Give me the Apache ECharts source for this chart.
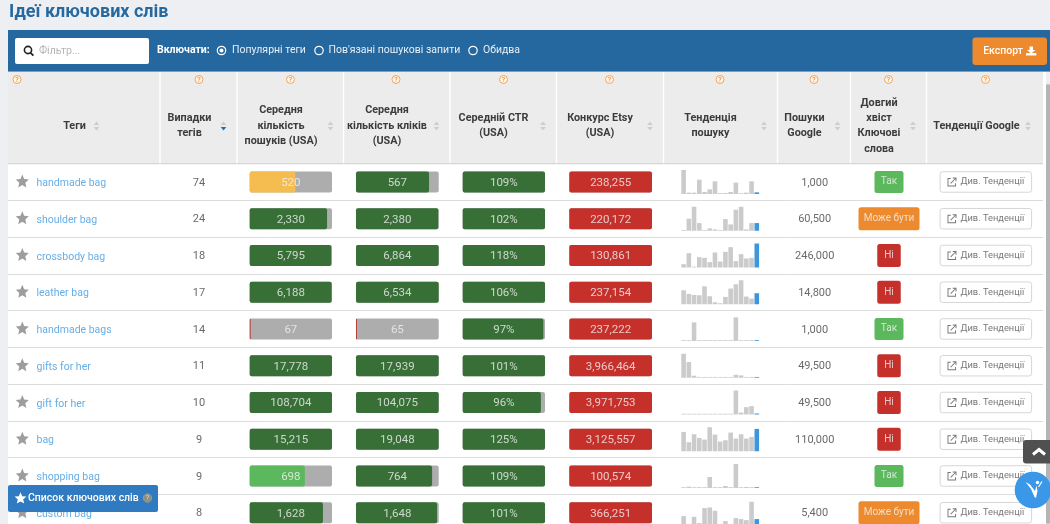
<!DOCTYPE html>
<html>
<head>
<meta charset="utf-8">
<style>
  html, body { margin: 0; padding: 0; background: #edeff3; }
  #main { width: 1050px; height: 524px; }
</style>
<script src="https://cdn.jsdelivr.net/npm/echarts@6/dist/echarts.min.js"></script>
</head>
<body>
<div id="main"></div>
<script>
var tags = ['handmade bag', 'shoulder bag', 'crossbody bag', 'leather bag', 'handmade bags', 'gifts for her', 'gift for her', 'bag', 'shopping bag', 'custom bag'];
var occurrences = [74, 24, 18, 17, 14, 11, 10, 9, 9, 8];
var avgSearches = [520, 2330, 5795, 6188, 67, 17778, 108704, 15215, 698, 1628];
var searchShare = [0.555, 0.94, 0.99, 0.995, 0.012, 1, 1, 1, 0.67, 0.89];
var searchLevel = ['mid', 'high', 'high', 'high', 'low', 'high', 'high', 'high', 'fair', 'high'];
var avgClicks = [567, 2380, 6864, 6534, 65, 17939, 104075, 19048, 764, 1648];
var clickShare = [0.883, 0.995, 1, 1, 0.012, 1, 1, 1, 0.92, 0.98];
var clickLevel = ['high', 'high', 'high', 'high', 'low', 'high', 'high', 'high', 'high', 'high'];
var avgCtr = [109, 102, 118, 106, 97, 101, 96, 125, 109, 101];
var ctrShare = [1, 1, 1, 1, 0.98, 1, 0.95, 1, 1, 1];
var etsyCompetition = [238255, 220172, 130861, 237154, 237222, 3966464, 3971753, 3125557, 100574, 366251];
var googleSearches = [1000, 60500, 246000, 14800, 1000, 49500, 49500, 110000, null, 5400];
var longTail = ['Так', 'Може бути', 'Ні', 'Ні', 'Так', 'Ні', 'Ні', 'Ні', 'Так', 'Може бути'];
var trendValues = [
  [72, 4, 4, 43, 6, 14, 38, 2, 3, 6, 34, 2, 4, 38, 5],
  [1, 36, 72, 23, 1, 7, 4, 1, 35, 19, 63, 72, 4, 23, 23],
  [10, 43, 2, 31, 29, 16, 45, 18, 47, 61, 19, 40, 27, 29, 72],
  [42, 31, 28, 27, 54, 24, 6, 3, 22, 47, 60, 72, 23, 17, 33],
  [1, 1, 56, 1, 1, 1, 1, 1, 1, 1, 71, 1, 1, 1, 2],
  [72, 47, 6, 1, 1, 1, 1, 1, 1, 1, 9, 7, 1, 1, 2],
  [1, 1, 1, 1, 1, 1, 1, 1, 1, 1, 72, 6, 22, 25, 3],
  [58, 27, 51, 40, 35, 72, 50, 29, 33, 56, 38, 51, 38, 43, 67],
  [1, 4, 2, 1, 1, 33, 1, 1, 6, 1, 72, 1, 3, 1, 2],
  [26, 1, 24, 5, 50, 52, 42, 1, 11, 1, 20, 17, 14, 69, 17]
];
var headers = [
  { lines: ['Теги'], x: 74.5, sort: 96.5, help: 17 },
  { lines: ['Випадки', 'тегів'], x: 189.5, sort: 223.5, help: 199, active: true },
  { lines: ['Середня', 'кількість', 'пошуків (USA)'], x: 281, sort: 330.5, help: 290.5 },
  { lines: ['Середня', 'кількість кліків', '(USA)'], x: 387, sort: 436.5, help: 396 },
  { lines: ['Середній CTR', '(USA)'], x: 493.5, sort: 543, help: 503.5 },
  { lines: ['Конкурс Etsy', '(USA)'], x: 600, sort: 650, help: 609.5 },
  { lines: ['Тенденція', 'пошуку'], x: 710.5, sort: 764, help: 720 },
  { lines: ['Пошуки', 'Google'], x: 804.5, sort: 837.5, help: 814 },
  { lines: ['Довгий', 'хвіст', 'Ключові', 'слова'], x: 879, sort: 913, help: 888.5 },
  { lines: ['Тенденції Google'], x: 976.5, sort: 1028, help: 985.5 }
];
var dividers = [160, 237, 343.5, 450, 556.5, 663.5, 777.5, 850.5, 926.5];

var ROW_H = 36.75, TOP = 163.6;
var FONT = 'Roboto, sans-serif';
var GREEN = '#376f37', RED = '#c5302b';
var levelColors = { high: GREEN, mid: '#f5bd4f', fair: '#5cb85c', low: '#b5403a' };
var tailStyle = {
  'Так': { color: '#5cb85c', size: [29, 22] },
  'Ні': { color: '#c5302b', size: [23.5, 23] },
  'Може бути': { color: '#ee8a2e', size: [61, 23] }
};

var mainChart = echarts.init(document.getElementById('main'));
var grid = [], xAxis = [], yAxis = [], series = [], gfx = [];

function fmt(v) { return v == null ? '' : v.toLocaleString('en-US'); }

function addColumn(left, width) {
  var idx = grid.length;
  grid.push({ left: left, top: TOP, width: width, height: ROW_H * 10, outerBoundsMode: 'none' });
  xAxis.push({ type: 'value', min: 0, max: 1, show: false, gridIndex: idx });
  yAxis.push({ type: 'category', data: tags, inverse: true, show: false, gridIndex: idx });
  return idx;
}

// tekst v kolonke idet cherez scatter s podpisyu
function textSeries(idx, texts, color, size, x, pos, dy) {
  series.push({
    type: 'scatter', xAxisIndex: idx, yAxisIndex: idx, symbolSize: 1, silent: true, z: 5,
    itemStyle: { color: 'transparent' },
    label: { show: true, position: pos || 'inside', distance: 0, formatter: '{b}', color: color, fontFamily: FONT, fontSize: size, offset: [0, dy || 0] },
    data: texts.map(function(t, i) { return { name: String(t), value: [x, i] }; })
  });
}

function meterColumn(left, width, shares, colors, texts) {
  var idx = addColumn(left, width);
  series.push({
    type: 'bar', xAxisIndex: idx, yAxisIndex: idx, barWidth: 21, silent: true,
    showBackground: true, backgroundStyle: { color: '#adadad', borderRadius: 2 },
    itemStyle: { borderRadius: 2 },
    data: shares.map(function(s, i) { return { value: s, itemStyle: { color: colors[i] } }; })
  });
  textSeries(idx, texts, '#f1f1f1', 11.5, 0.5, null, 1);
}

// plashka so skruglennem, razmer i cvet zadaetsya na stroku
function pillSeries(idx, sizes, fills, stroke) {
  series.push({
    type: 'custom', coordinateSystem: 'cartesian2d', xAxisIndex: idx, yAxisIndex: idx, silent: true, z: 3,
    encode: { x: 0, y: 1 },
    clip: false,
    renderItem: function(params, api) {
      var c = api.coord([api.value(0), api.value(1)]);
      var s = sizes[params.dataIndex];
      return {
        type: 'rect',
        shape: { x: c[0] - s[0] / 2, y: c[1] - s[1] / 2, width: s[0], height: s[1], r: 2.5 },
        style: { fill: fills[params.dataIndex], stroke: stroke || null, lineWidth: 1 }
      };
    },
    data: tags.map(function(t, i) { return [0.5, i]; })
  });
}

// setka strok
var rowsIdx = addColumn(8, 1035);
yAxis[rowsIdx].show = true;
yAxis[rowsIdx].axisLine = { show: false };
yAxis[rowsIdx].axisTick = { show: false };
yAxis[rowsIdx].axisLabel = { show: false };
yAxis[rowsIdx].splitLine = { show: true, lineStyle: { color: '#dcdcdc', width: 1 } };

// zvezdy
series.push({
  type: 'scatter', xAxisIndex: rowsIdx, yAxisIndex: rowsIdx, silent: true,
  symbol: 'path://M12 1l3.2 7.4 8 .7-6 5.3 1.8 7.8L12 18l-7 4.2 1.8-7.8-6-5.3 8-.7z',
  symbolSize: 13, symbolOffset: [0, -1], itemStyle: { color: '#858585' },
  data: tags.map(function(t, i) { return [14.3 / 1035, i]; })
});

textSeries(addColumn(36, 110), tags, '#3f98de', 10.5, 0, 'right', 1.5);
textSeries(addColumn(160, 78), occurrences, '#444', 11, 0.5, null, 1);
meterColumn(249.7, 82.3, searchShare, searchLevel.map(function(l) { return levelColors[l]; }), avgSearches.map(fmt));
meterColumn(356, 82.7, clickShare, clickLevel.map(function(l) { return levelColors[l]; }), avgClicks.map(fmt));
meterColumn(462.7, 82.3, ctrShare, avgCtr.map(function() { return GREEN; }), avgCtr.map(function(v) { return v + '%'; }));
meterColumn(569.3, 82.7, etsyCompetition.map(function() { return 1; }), etsyCompetition.map(function() { return RED; }), etsyCompetition.map(fmt));
textSeries(addColumn(777.5, 74.4), googleSearches.map(fmt), '#444', 11, 0.5, null, 1);

// mini-grafiki
trendValues.forEach(function(vals, r) {
  var idx = grid.length;
  grid.push({ left: 681, top: TOP + 6.4 + ROW_H * r, width: 78.4, height: 24, outerBoundsMode: 'none' });
  xAxis.push({ type: 'category', show: false, gridIndex: idx, data: vals.map(function(v, k) { return k; }) });
  yAxis.push({ type: 'value', show: false, min: 0, max: 72, gridIndex: idx });
  series.push({
    type: 'bar', xAxisIndex: idx, yAxisIndex: idx, barWidth: 4.6, barMinHeight: 0.8, silent: true,
    data: vals.map(function(v, k) {
      return { value: v, itemStyle: { color: k === vals.length - 1 ? '#3f95dc' : '#cbcbcb' } };
    })
  });
});

// dlinnyi hvost
var tailIdx = addColumn(850, 78);
pillSeries(tailIdx, longTail.map(function(t) { return tailStyle[t].size; }), longTail.map(function(t) { return tailStyle[t].color; }));
textSeries(tailIdx, longTail, '#f1f1f1', 10, 0.5);

// knopki
var btnIdx = addColumn(940, 91.7);
pillSeries(btnIdx, tags.map(function() { return [91.5, 20.5]; }), tags.map(function() { return '#ffffff'; }), '#d6d6d6');
textSeries(btnIdx, tags.map(function() { return 'Див. Тенденції'; }), '#555', 9.3, 0.571);
series.push({
  type: 'scatter', xAxisIndex: btnIdx, yAxisIndex: btnIdx, silent: true, z: 4,
  symbol: 'path://M10 3H3v18h18v-7h-2v5H5V5h5zM14 2v2h4.6L9 13.6 10.4 15 20 5.4V10h2V2z',
  symbolSize: 9, itemStyle: { color: '#555' },
  data: tags.map(function(t, i) { return [12 / 91.7, i]; })
});

// ---- oformlenie stranicy
function rect(x, y, w, h, fill, r, z) {
  gfx.push({ type: 'rect', z: z || 0, silent: true, shape: { x: x, y: y, width: w, height: h, r: r || 0 }, style: { fill: fill } });
}
function text(x, y, str, font, fill, align, z) {
  gfx.push({ type: 'text', z: z || 1, silent: true, x: x, y: y, style: { text: str, font: font, fill: fill, align: align || 'left', verticalAlign: 'middle' } });
}
function circle(x, y, r, fill, stroke, lw, z) {
  gfx.push({ type: 'circle', z: z || 1, silent: true, shape: { cx: x, cy: y, r: r }, style: { fill: fill || 'transparent', stroke: stroke || null, lineWidth: lw || 1 } });
}
function poly(points, fill, z) {
  gfx.push({ type: 'polygon', z: z || 1, silent: true, shape: { points: points }, style: { fill: fill } });
}
function line(points, stroke, lw, z) {
  gfx.push({ type: 'polyline', z: z || 1, silent: true, shape: { points: points }, style: { stroke: stroke, lineWidth: lw, fill: null } });
}
function sortIcon(x, y, active) {
  poly([[x - 2.8, y - 1], [x + 2.8, y - 1], [x, y - 4.4]], '#c6ced6');
  poly([[x - 2.8, y + 1], [x + 2.8, y + 1], [x, y + 4.4]], active ? '#2b6ca3' : '#c6ced6');
}
function helpIcon(x, y) {
  circle(x, y, 4, '#fff5e8', '#f0a65a', 1);
  text(x, y + 0.5, '?', '500 7px ' + FONT, '#e8923c', 'center');
}

rect(0, 0, 1050, 524, '#edeff3');
rect(8, 72, 1038, 452, '#ffffff');
rect(8, 72, 1035, 92, '#ececec');
dividers.forEach(function(x) { rect(x - 0.75, 72, 1.5, 92, '#ffffff', 0, 1); });
rect(8, 163.2, 1035, 1, '#d4d4d4', 0, 1);
rect(1046, 84, 4, 440, '#b5b5b5', 2);

text(9, 12.5, 'Ідеї ключових слів', 'bold 18px ' + FONT, '#27699f');

// panel
rect(8, 30, 1042, 42, '#24689f');
rect(8, 71, 1042, 1, '#6ea3cf', 0, 1);
rect(15, 38, 134, 26, '#ffffff', 2, 1);
circle(28, 50, 3.6, null, '#222', 1.6, 2);
line([[30.6, 52.8], [33.4, 55.6]], '#222', 1.8, 2);
text(39, 51, 'Фільтр...', '10.5px ' + FONT, '#b5b5b5');
text(157, 50.5, 'Включати:', 'bold 10.5px ' + FONT, '#ffffff');
circle(221.5, 50.5, 4.2, null, '#fff', 1.2, 2);
circle(221.5, 50.5, 2, '#fff', null, 0, 2);
text(232, 50.5, 'Популярні теги', '10.5px ' + FONT, '#e8eff6');
circle(319, 50.5, 4.2, null, '#fff', 1.2, 2);
text(328.5, 50.5, "Пов'язані пошукові запити", '10.5px ' + FONT, '#e8eff6');
circle(473, 50.5, 4.2, null, '#fff', 1.2, 2);
text(483, 50.5, 'Обидва', '10.5px ' + FONT, '#e8eff6');
rect(972.5, 37.5, 74.5, 27.5, '#ee8a2e', 3, 1);
text(1023, 51.5, 'Експорт', '500 10.5px ' + FONT, '#ffffff', 'right', 2);
poly([[1029.5, 46.5], [1033, 46.5], [1033, 50], [1035.4, 50], [1031.2, 53.6], [1027, 50], [1029.5, 50]], '#fff', 2);
rect(1026, 53, 10.4, 2.4, '#fff', 0.5, 2);

// shapka tablicy
headers.forEach(function(h) {
  var lh = 15.3, cy = 126;
  h.lines.forEach(function(l, i) {
    text(h.x, cy + (i - (h.lines.length - 1) / 2) * lh, l, 'bold 10.8px ' + FONT, '#3c3c3c', 'center', 2);
  });
  sortIcon(h.sort, cy, h.active);
  helpIcon(h.help, 79.5);
});

// poverh tablicy
rect(8, 485, 150, 27, '#2f7ac0', 2, 100);
poly([[20.5, 492.3], [22.2, 496.2], [26.4, 496.6], [23.2, 499.4], [24.2, 503.6], [20.5, 501.4], [16.8, 503.6], [17.8, 499.4], [14.6, 496.6], [18.8, 496.2]], '#fff', 101);
text(28, 498, 'Список ключових слів', '500 10.5px ' + FONT, '#ffffff', 'left', 101);
circle(147.5, 498, 4.2, '#8b8f84', '#9a9a8a', 1, 101);
text(147.5, 498.5, '?', '500 7px ' + FONT, '#d8cfa8', 'center', 102);

rect(1023, 440, 30, 23.5, '#505050', 3, 100);
line([[1033, 454.5], [1039, 449.5], [1045, 454.5]], '#fff', 3, 101);

circle(1033, 490, 18.3, '#3b97e8', null, 0, 100);
poly([[1025.5, 482], [1030, 484.5], [1035, 491], [1036.5, 485.5], [1037.5, 491], [1036, 498], [1034.5, 497], [1031, 489]], '#ffffff', 101);
circle(1037.5, 482.5, 1.7, '#fff', null, 0, 101);
line([[1038.5, 487], [1042, 481.5]], '#fff', 1.2, 101);

mainChart.setOption({
  animation: false,
  backgroundColor: '#edeff3',
  grid: grid,
  xAxis: xAxis,
  yAxis: yAxis,
  series: series,
  graphic: { elements: gfx }
});
</script>
</body>
</html>
